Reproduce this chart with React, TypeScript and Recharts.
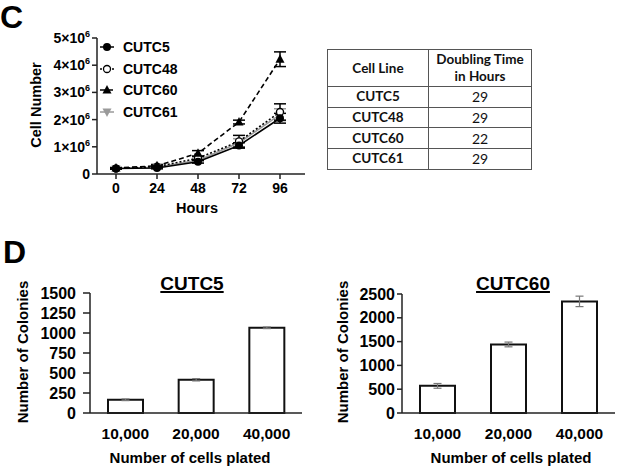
import { LineChart, Line, XAxis, YAxis, ErrorBar, Legend, BarChart, Bar, Label } from "recharts";

// panel C: growth curves (cell number in units of 10^6)
const HOURS = [0, 24, 48, 72, 96];
const CUTC5 = [0.2, 0.22, 0.45, 1.05, 2.05];
const CUTC5_ERR = [0.02, 0.03, 0.05, 0.1, 0.18];
const CUTC48 = [0.2, 0.27, 0.58, 1.2, 2.28];
const CUTC48_ERR = [0.02, 0.03, 0.06, 0.22, 0.3];
const CUTC60 = [0.22, 0.3, 0.76, 1.91, 4.22];
const CUTC60_ERR = [0.02, 0.05, 0.1, 0.07, 0.27];
const CUTC61 = [0.2, 0.25, 0.5, 1.15, 2.18];
const CUTC61_ERR = [0.02, 0.03, 0.05, 0.15, 0.22];
const CELL_TICKS = [0, 1, 2, 3, 4, 5];

// doubling time table
const TABLE_LINES = ["CUTC5", "CUTC48", "CUTC60", "CUTC61"];
const DOUBLING_HOURS = [29, 29, 22, 29];

// panel D: colony formation
const PLATED = ["10,000", "20,000", "40,000"];
const COLONIES_5 = [165, 415, 1065];
const COLONIES_5_ERR = [10, 14, 10];
const COLONIES_60 = [570, 1440, 2345];
const COLONIES_60_ERR = [50, 50, 110];
const TICKS_5 = [0, 250, 500, 750, 1000, 1250, 1500];
const TICKS_60 = [0, 500, 1000, 1500, 2000, 2500];

const FONT = '"Liberation Sans", Arial, sans-serif';

const SERIES = [
  { key: "c5", name: "CUTC5", values: CUTC5, err: CUTC5_ERR, color: "#000", dash: undefined, shape: "dot" },
  { key: "c48", name: "CUTC48", values: CUTC48, err: CUTC48_ERR, color: "#000", dash: "2 2", shape: "ring" },
  { key: "c60", name: "CUTC60", values: CUTC60, err: CUTC60_ERR, color: "#000", dash: "5 3", shape: "up" },
  { key: "c61", name: "CUTC61", values: CUTC61, err: CUTC61_ERR, color: "#9a9a9a", dash: undefined, shape: "down" },
];
const DRAW_ORDER = ["c61", "c48", "c5", "c60"];

const growth = HOURS.map((h, i) => {
  const row: Record<string, number> = { hours: h };
  SERIES.forEach((s) => {
    row[s.key] = s.values[i];
    row[s.key + "Err"] = s.err[i];
  });
  return row;
});

const colonies5 = PLATED.map((p, i) => ({ cells: p, colonies: COLONIES_5[i], err: COLONIES_5_ERR[i] }));
const colonies60 = PLATED.map((p, i) => ({ cells: p, colonies: COLONIES_60[i], err: COLONIES_60_ERR[i] }));

function marker(shape: string, cx: number, cy: number, color: string, key?: string) {
  if (shape === "dot") return <circle key={key} cx={cx} cy={cy} r={4} fill={color} />;
  if (shape === "ring")
    return <circle key={key} cx={cx} cy={cy} r={3.5} fill="#fff" stroke={color} strokeWidth={1.3} />;
  if (shape === "up")
    return <polygon key={key} points={`${cx},${cy - 5} ${cx - 4.5},${cy + 3.5} ${cx + 4.5},${cy + 3.5}`} fill={color} />;
  return <polygon key={key} points={`${cx - 4.5},${cy - 3.5} ${cx + 4.5},${cy - 3.5} ${cx},${cy + 5}`} fill={color} />;
}

const PowTick = ({ x, y, payload }: any) => {
  const v = payload.value;
  return (
    <text x={x} y={y} dy={5} textAnchor="end" fontSize={14} fontWeight="bold" fill="#000" fontFamily={FONT}>
      {v === 0 ? "0" : `${v}×10`}
      {v !== 0 && (
        <tspan fontSize={9} dy={-6}>
          6
        </tspan>
      )}
    </text>
  );
};

const renderLegend = () => (
  <div style={{ fontFamily: FONT, fontSize: 14, fontWeight: "bold", color: "#000" }}>
    {SERIES.map((s) => (
      <div key={s.key} style={{ display: "flex", alignItems: "center", height: 21.7 }}>
        <svg width={24} height={12}>
          <line x1={1} y1={6} x2={15} y2={6} stroke={s.color} strokeWidth={1.5} strokeDasharray={s.dash} />
          {marker(s.shape, 8, 6, s.color)}
        </svg>
        <span>{s.name}</span>
      </div>
    ))}
  </div>
);

const axisStyle = { stroke: "#222", strokeWidth: 1.5 };

function rotatedTitle(text: string, x: number, y: number, size: number) {
  return () => (
    <text
      x={x}
      y={y}
      transform={`rotate(-90 ${x} ${y})`}
      textAnchor="middle"
      fontSize={size}
      fontWeight="bold"
      fill="#000"
      fontFamily={FONT}
    >
      {text}
    </text>
  );
}

function flatTitle(text: string, x: number, y: number, size: number) {
  return () => (
    <text x={x} y={y} textAnchor="middle" fontSize={size} fontWeight="bold" fill="#000" fontFamily={FONT}>
      {text}
    </text>
  );
}

function ColonyChart({ data, ticks, max, left, yWidth, tickSize, tickMargin, right, top, yTitleX, xTitleX }: any) {
  return (
    <div style={{ position: "absolute", left, top: 260 }}>
      <BarChart width={310} height={208} data={data} margin={{ top, right, left: 0, bottom: 0 }}>
        <XAxis
          dataKey="cells"
          height={55}
          tickLine={false}
          tickSize={0}
          tickMargin={15}
          axisLine={axisStyle}
          tick={{ fontSize: 15.5, fontWeight: "bold", fill: "#000", fontFamily: FONT }}
        >
          <Label content={flatTitle("Number of cells plated", xTitleX, 202.5, 15)} />
        </XAxis>
        <YAxis
          width={yWidth}
          domain={[0, max]}
          ticks={ticks}
          interval={0}
          tickSize={tickSize}
          tickMargin={tickMargin}
          axisLine={axisStyle}
          tickLine={axisStyle}
          tick={{ fontSize: 16, fontWeight: "bold", fill: "#000", fontFamily: FONT }}
        >
          <Label content={rotatedTitle("Number of Colonies", yTitleX, 92, 15)} />
        </YAxis>
        <Bar dataKey="colonies" fill="#fff" stroke="#111" strokeWidth={2} barSize={35} isAnimationActive={false}>
          <ErrorBar dataKey="err" width={4} stroke="#777" strokeWidth={1.2} direction="y" />
        </Bar>
      </BarChart>
    </div>
  );
}

const cell: React.CSSProperties = {
  border: "1.5px solid #555",
  padding: 0,
  textAlign: "center",
  lineHeight: "17px",
};

export default function App() {
  return (
    <div
      style={{
        position: "fixed",
        left: 0,
        top: 0,
        width: 620,
        height: 468,
        background: "#fff",
        fontFamily: FONT,
        overflow: "hidden",
      }}
    >
      <div style={{ position: "absolute", left: 0, top: 1, fontSize: 32, fontWeight: "bold", lineHeight: 1 }}>C</div>
      <div style={{ position: "absolute", left: 3, top: 236, fontSize: 32, fontWeight: "bold", lineHeight: 1 }}>D</div>

      {/* Growth curves */}
      <div style={{ position: "absolute", left: 0, top: 0 }}>
        <LineChart width={320} height={220} data={growth} margin={{ top: 38, right: 15, left: 0, bottom: 0 }}>
          <XAxis
            dataKey="hours"
            height={46}
            padding={{ left: 19, right: 25 }}
            tickSize={5}
            tickMargin={4}
            axisLine={axisStyle}
            tickLine={axisStyle}
            tick={{ fontSize: 14, fontWeight: "bold", fill: "#000", fontFamily: FONT }}
          >
            <Label content={flatTitle("Hours", 197, 213, 14.5)} />
          </XAxis>
          <YAxis
            width={97}
            domain={[0, 5]}
            ticks={CELL_TICKS}
            interval={0}
            tickSize={5}
            tickMargin={2}
            axisLine={axisStyle}
            tickLine={axisStyle}
            tick={<PowTick />}
          >
            <Label content={rotatedTitle("Cell Number", 40.5, 105, 14.5)} />
          </YAxis>
          <Legend
            content={renderLegend}
            layout="vertical"
            align="center"
            verticalAlign="middle"
            wrapperStyle={{ left: 99, top: 36, width: 100, height: 90 }}
          />
          {DRAW_ORDER.map((k) => {
            const s = SERIES.find((x) => x.key === k)!;
            return (
              <Line
                key={s.key}
                dataKey={s.key}
                name={s.name}
                stroke={s.color}
                strokeWidth={1.6}
                strokeDasharray={s.dash}
                isAnimationActive={false}
                dot={(p: any) => marker(s.shape, p.cx, p.cy, s.color, `${s.key}-${p.index}`)}
                activeDot={false}
              >
                <ErrorBar dataKey={s.key + "Err"} width={6} stroke={s.color} strokeWidth={1.5} direction="y" />
              </Line>
            );
          })}
        </LineChart>
      </div>

      {/* Doubling time table */}
      <table
        style={{
          position: "absolute",
          left: 327,
          top: 49,
          width: 205,
          borderCollapse: "collapse",
          fontFamily: "Lato, sans-serif",
          fontSize: 13.5,
          color: "#111",
        }}
      >
        <thead>
          <tr style={{ height: 37 }}>
            <th style={{ ...cell, width: 100 }}>Cell Line</th>
            <th style={cell}>
              Doubling Time
              <br />
              in Hours
            </th>
          </tr>
        </thead>
        <tbody>
          {TABLE_LINES.map((n, i) => (
            <tr key={n} style={{ height: 20.7 }}>
              <td style={{ ...cell, fontWeight: "bold" }}>{n}</td>
              <td style={{ ...cell, fontSize: 14 }}>{DOUBLING_HOURS[i]}</td>
            </tr>
          ))}
        </tbody>
      </table>

      {/* Colony titles */}
      {[
        { t: "CUTC5", cx: 192 },
        { t: "CUTC60", cx: 513 },
      ].map((d) => (
        <div
          key={d.t}
          style={{
            position: "absolute",
            left: d.cx - 70,
            width: 140,
            top: 273.5,
            textAlign: "center",
            fontSize: 19,
            fontWeight: "bold",
            lineHeight: 1,
            textDecoration: "underline",
            textDecorationThickness: 2,
          }}
        >
          {d.t}
        </div>
      ))}

      <ColonyChart
        data={colonies5}
        ticks={TICKS_5}
        max={1500}
        left={0}
        yWidth={90}
        tickSize={7}
        tickMargin={7}
        right={8}
        top={33}
        yTitleX={28}
        xTitleX={190}
      />
      <ColonyChart
        data={colonies60}
        ticks={TICKS_60}
        max={2500}
        left={310}
        yWidth={92}
        tickSize={5}
        tickMargin={2}
        right={5}
        top={34}
        yTitleX={38}
        xTitleX={201}
      />
    </div>
  );
}
